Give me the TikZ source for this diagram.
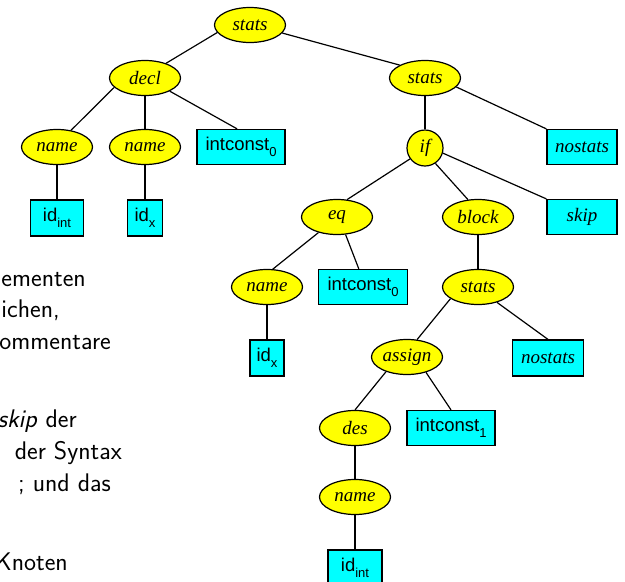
\documentclass[tikz,border=0pt]{standalone}
\usepackage{fontspec}
\newfontfamily\tms{Liberation Serif}
\newfontfamily\arl{Liberation Sans}
\usetikzlibrary{shapes.geometric}
\definecolor{ye}{RGB}{255,255,0}
\definecolor{cy}{RGB}{0,255,255}
\newcommand\lsub[1]{\raisebox{-5.5pt}{\fontsize{13}{13}\selectfont #1}}
\tikzset{
 nt/.style={ellipse, draw=black, line width=1.2pt, fill=ye, minimum width=71pt, minimum height=35pt, inner sep=0pt, font=\tms\itshape\fontsize{19}{19}\selectfont},
 ifnode/.style={circle, draw=black, line width=1.2pt, fill=ye, minimum size=36pt, inner sep=0pt, font=\tms\itshape\fontsize{19}{19}\selectfont},
 leaf/.style={rectangle, draw=black, line width=1.2pt, fill=cy, minimum height=35pt, inner sep=0pt, font=\arl\fontsize{18.5}{18.5}\selectfont},
 kw/.style={leaf, font=\tms\itshape\fontsize{19}{19}\selectfont},
 con/.style={line width=1.2pt},
 lt/.style={anchor=base east, inner sep=0pt, font=\sffamily\fontsize{25.5}{31.5}\selectfont}
}
\begin{document}
\begin{tikzpicture}[x=1pt,y=-1pt]
\useasboundingbox (0,0) rectangle (625,582);
\clip (0,0) rectangle (625,582);
% left text
\node[lt] (t1) at (86,286) {ementen};
\node[lt] (t2) at (60,317) {ichen,};
\node[lt] (t3) at (111,349) {ommentare};
\node[lt] (t4) at (77,427) {\textit{skip} der};
\node[lt] (t5) at (122,459) {der Syntax};
\node[lt] (t6) at (111,491) {; und das};
\node[lt] (t7) at (68,570) {Knoten};
% tree
\node[nt] (root) at (250,25) {stats};
\node[nt] (decl) at (145,78) {decl};
\node[nt] (name1) at (57,147) {name};
\node[nt] (name2) at (145,147) {name};
\node[leaf, minimum width=88pt] (ic0a) at (241,147) {intconst\lsub{0}};
\node[leaf, minimum width=53pt, minimum height=36pt] (idint1) at (57,218) {id\lsub{int}};
\node[leaf, minimum width=35pt, minimum height=36pt] (idx1) at (145,218) {id\lsub{x}};
\node[nt] (stats2) at (425,78) {stats};
\node[ifnode] (if) at (425,148) {if};
\node[kw, minimum width=70pt] (nostats1) at (582,147) {nostats};
\node[nt] (eq) at (337,217) {eq};
\node[nt] (block) at (478,217) {block};
\node[kw, minimum width=70pt] (skip) at (582,217) {skip};
\node[nt] (name3) at (267,287) {name};
\node[leaf, minimum width=89pt] (ic0b) at (363,287) {intconst\lsub{0}};
\node[nt] (stats3) at (478,287) {stats};
\node[leaf, minimum width=34pt, minimum height=36pt] (idx2) at (267,358) {id\lsub{x}};
\node[nt] (assign) at (407,357) {assign};
\node[kw, minimum width=71pt, minimum height=36pt] (nostats2) at (548,358) {nostats};
\node[nt] (des) at (355,428) {des};
\node[leaf, minimum width=88pt] (ic1) at (451,428) {intconst\lsub{1}};
\node[nt] (name4) at (355,497) {name};
\node[leaf, minimum width=54pt, minimum height=36pt] (idint2) at (355,568) {id\lsub{int}};
% connectors
\draw[con] (root.193) -- (decl.35);
\draw[con] (root.346) -- (stats2.153);
\draw[con] (decl.197) -- (name1.50);
\draw[con] (decl.south) -- (name2.north);
\draw[con] (decl.332) -- (ic0a.102);
\draw[con] (name1.south) -- (idint1.north);
\draw[con] (name2.south) -- (idx1.north);
\draw[con] (stats2.south) -- (if.north);
\draw[con] (stats2.344) -- (nostats1.north west);
\draw[con] (if.216) -- (eq.60);
\draw[con] (if.304) -- (block.120);
\draw[con] (if.344) -- (skip.north west);
\draw[con] (eq.220) -- (name3.72);
\draw[con] (eq.296) -- (ic0b.103);
\draw[con] (block.south) -- (stats3.north);
\draw[con] (name3.south) -- (idx2.north);
\draw[con] (stats3.203) -- (assign.60);
\draw[con] (stats3.321) -- (nostats2.north);
\draw[con] (assign.215) -- (des.north);
\draw[con] (assign.321) -- (ic1.north);
\draw[con] (des.south) -- (name4.north);
\draw[con] (name4.south) -- (idint2.north);
\end{tikzpicture}
\end{document}
